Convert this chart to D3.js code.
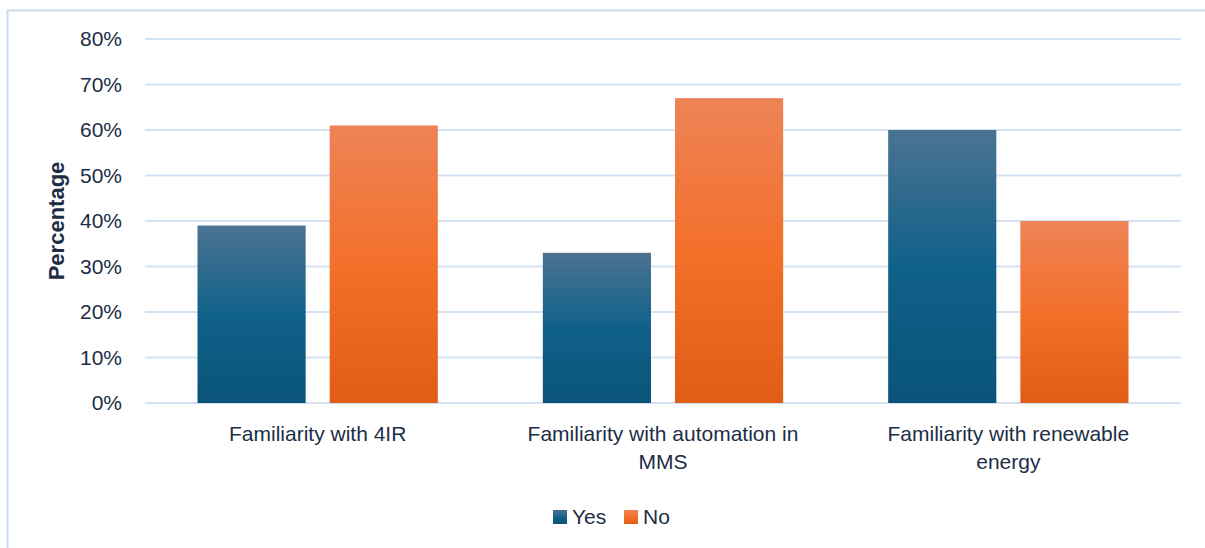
<!DOCTYPE html>
<html lang="en">
<head>
<script src="https://d3js.org/d3.v7.min.js"></script>
<style>
  body { margin: 0; background: #fff; }
  svg text { font-family: "Liberation Sans", Arial, sans-serif; fill: #1c2e45; }
</style>
</head>
<body>
<svg id="chart" width="1205" height="548"></svg>
<script>
  // data
  let categories = ["Familiarity with 4IR", "Familiarity with automation in MMS", "Familiarity with renewable energy"]
  let series = ["Yes", "No"]
  let yesValues = [39, 33, 60]
  let noValues = [61, 67, 40]
  let yTicks = [0, 10, 20, 30, 40, 50, 60, 70, 80]

  let svg = d3.select("#chart")
  let margin = {left: 145, right: 24, top: 39, bottom: 145}
  let width = 1205 - margin.left - margin.right
  let height = 548 - margin.top - margin.bottom
  let fontSize = "21px"

  // outer frame
  svg.append("rect").attr("x", 7.5).attr("y", 10.5).attr("width", 1205).attr("height", 548)
    .attr("fill", "none").attr("stroke", "#c9dcf0").attr("stroke-width", 2)

  // gradients for bars
  let defs = svg.append("defs")
  let grads = {
    Yes: [["0%", "#4b7392"], ["50%", "#10618a"], ["100%", "#0a5478"]],
    No: [["0%", "#ee8357"], ["50%", "#f3702a"], ["100%", "#e05c17"]]
  }
  Object.keys(grads).forEach(k => {
    let g = defs.append("linearGradient").attr("id", "grad" + k)
      .attr("x1", 0).attr("y1", 0).attr("x2", 0).attr("y2", 1)
    grads[k].forEach(s => g.append("stop").attr("offset", s[0]).attr("stop-color", s[1]))
  })

  let g = svg.append("g").attr("transform", `translate(${margin.left}, ${margin.top})`)

  let x0 = d3.scaleBand().domain(categories).range([0, width])
  let y = d3.scaleLinear().domain([0, 80]).range([height, 0])
  let x1 = d3.scaleBand().domain(series).range([52.5, x0.bandwidth() - 52.5]).paddingInner(24 / 132)

  // gridlines
  g.append("g").selectAll("line").data(yTicks).enter().append("line")
    .attr("x1", 0).attr("x2", width)
    .attr("y1", d => y(d)).attr("y2", d => y(d))
    .attr("stroke", "#d3e2f2").attr("stroke-width", 2)

  // y axis labels
  let yAxis = g.append("g").call(d3.axisLeft(y).tickValues(yTicks).tickFormat(d => d + "%").tickSize(0).tickPadding(23))
  yAxis.select(".domain").remove()
  yAxis.selectAll("text").style("font-size", fontSize).attr("fill", "#1c2e45")

  // y title
  svg.append("text").attr("transform", "translate(64, 221) rotate(-90)")
    .attr("text-anchor", "middle").style("font-size", "22px").style("font-weight", "bold")
    .text("Percentage")

  // bars
  let rows = categories.map((c, i) => ({cat: c, values: [{key: "Yes", v: yesValues[i]}, {key: "No", v: noValues[i]}]}))
  let groups = g.selectAll(".grp").data(rows).enter().append("g").attr("class", "grp")
    .attr("transform", d => `translate(${x0(d.cat)}, 0)`)
  groups.selectAll("rect").data(d => d.values).enter().append("rect")
    .attr("x", d => x1(d.key)).attr("width", x1.bandwidth())
    .attr("y", d => y(d.v)).attr("height", d => height - y(d.v))
    .attr("fill", d => `url(#grad${d.key})`)

  // category labels, wrapped
  let wrapWidth = 290
  groups.each(function(d) {
    let t = d3.select(this).append("text").attr("text-anchor", "middle").style("font-size", fontSize)
    let words = d.cat.split(" ")
    let lines = [], line = []
    let probe = svg.append("text").style("font-size", fontSize)
    words.forEach(w => {
      let test = line.concat(w).join(" ")
      probe.text(test)
      if (probe.node().getComputedTextLength() > wrapWidth && line.length) {
        lines.push(line.join(" ")); line = [w]
      } else line.push(w)
    })
    lines.push(line.join(" "))
    probe.remove()
    lines.forEach((l, i) => t.append("tspan").attr("x", x0.bandwidth() / 2).attr("y", height + 38 + i * 28).text(l))
  })

  // legend
  let legend = svg.append("g").attr("transform", "translate(553, 510)")
  let legendX = [0, 71]
  series.forEach((s, i) => {
    let lg = legend.append("g").attr("transform", `translate(${legendX[i]}, 0)`)
    lg.append("rect").attr("width", 14).attr("height", 14).attr("fill", `url(#grad${s})`)
    lg.append("text").attr("x", 19).attr("y", 14).style("font-size", fontSize).text(s)
  })
</script>
</body>
</html>
